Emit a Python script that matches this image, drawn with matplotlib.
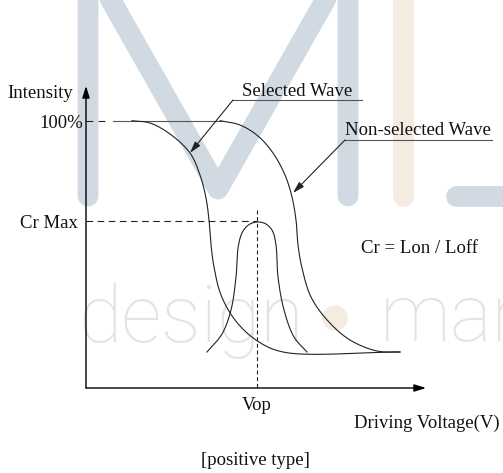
import numpy as np
import matplotlib
matplotlib.use('Agg')
from matplotlib import pyplot as plt
from matplotlib.patches import Circle

# picture space: x to the right, y downwards (pixels of the 503x473 frame)
W, H = 503, 473
origin = (86, 388)
y_top_arrow = 86
x_right_arrow = 426

# flat 100% line shared by both waves
top_x = [113, 222]
level_100 = 120.7
level_crmax = 220.7
x_vop = 257

# curves (x, y)
sel_x = [132, 150, 170, 190, 200, 206, 209, 211, 214, 221, 235, 256, 283, 400]
sel_y = [120.7, 123, 134, 153, 175, 198, 220, 245, 267, 295, 320, 340, 352, 352]

nonsel_x = [220, 240, 258, 273, 285, 292, 296, 298, 302, 311, 328, 350, 377, 400]
nonsel_y = [120.7, 125, 136, 153, 175, 197, 220, 245, 268, 297, 321, 340, 351, 352]

cr_x = [207, 222, 231, 236, 238.5, 243, 250, 258.5, 266, 272.5, 276, 278, 284, 294, 307]
cr_y = [352, 334, 310, 277, 245, 231, 224, 222, 224, 231, 245, 277, 310, 337, 352]

labels = ['Intensity', '100%', 'Cr Max', 'Selected Wave', 'Non-selected Wave',
          'Cr = Lon / Loff', 'Vop', 'Driving Voltage(V)', '[positive type]']
label_x = [73, 83, 78, 297, 345, 420, 257, 500, 255]
label_y = [98, 128, 228, 96, 135, 253, 410, 428, 465]
label_ha = ['right', 'right', 'right', 'center', 'left', 'center', 'center', 'right', 'center']

def smooth(xs, ys, n=20):
    # centripetal catmull-rom through the read points
    p = np.column_stack([xs, ys]).astype(float)
    p = np.vstack([2*p[0] - p[1], p, 2*p[-1] - p[-2]])
    out = []
    for i in range(1, len(p) - 2):
        p0, p1, p2, p3 = p[i-1], p[i], p[i+1], p[i+2]
        t0 = 0.0
        t1 = t0 + np.linalg.norm(p1 - p0) ** 0.5
        t2 = t1 + np.linalg.norm(p2 - p1) ** 0.5
        t3 = t2 + np.linalg.norm(p3 - p2) ** 0.5
        t = np.linspace(t1, t2, n, endpoint=False)[:, None]
        a1 = (t1 - t)/(t1 - t0)*p0 + (t - t0)/(t1 - t0)*p1
        a2 = (t2 - t)/(t2 - t1)*p1 + (t - t1)/(t2 - t1)*p2
        a3 = (t3 - t)/(t3 - t2)*p2 + (t - t2)/(t3 - t2)*p3
        b1 = (t2 - t)/(t2 - t0)*a1 + (t - t0)/(t2 - t0)*a2
        b2 = (t3 - t)/(t3 - t1)*a2 + (t - t1)/(t3 - t1)*a3
        c = (t2 - t)/(t2 - t1)*b1 + (t - t1)/(t2 - t1)*b2
        out.append(c)
    out.append(p[-2][None, :])
    out = np.vstack(out)
    return out[:, 0], out[:, 1]

fig = plt.figure(figsize=(W/100, H/100), dpi=100)
ax = fig.add_axes([0, 0, 1, 1])
ax.set_xlim(0, W)
ax.set_ylim(H, 0)
ax.axis('off')

# watermark behind everything
wm_blue = '#d1dae2'
wm_orange = '#f4ece1'
ax.plot([88, 88, 218, 348, 348], [196, -40, 189, -40, 196], color=wm_blue, lw=15,
        solid_capstyle='round', solid_joinstyle='round', zorder=0)
ax.plot([403, 403], [-40, 196], color=wm_orange, lw=15, solid_capstyle='round', zorder=0)
ax.plot([456, 540], [196, 196], color=wm_blue, lw=15, solid_capstyle='round', zorder=0)
ax.text(78, 342, 'design', fontsize=57, family='Roboto', weight='light', color='#e3e3e3',
        ha='left', va='baseline', zorder=0, clip_on=True)
ax.text(380, 341, 'mar', fontsize=57, family='Roboto', weight='light', color='#e3e3e3',
        ha='left', va='baseline', zorder=0, clip_on=True)
ax.add_patch(Circle((335, 318), 12, color=wm_orange, zorder=0))

lc = '#222222'
lw = 0.8

# axes with arrows
ax.annotate('', xy=(origin[0], y_top_arrow), xytext=origin,
            arrowprops=dict(arrowstyle='-|>,head_length=0.7,head_width=0.22', lw=1.0,
                            color='k', shrinkA=0, shrinkB=0))
ax.annotate('', xy=(x_right_arrow, origin[1]), xytext=origin,
            arrowprops=dict(arrowstyle='-|>,head_length=0.7,head_width=0.22', lw=1.0,
                            color='k', shrinkA=0, shrinkB=0))

# curves
ax.plot(top_x, [level_100, level_100], color='#555555', lw=lw, zorder=3)
for xs, ys in [(sel_x, sel_y), (nonsel_x, nonsel_y), (cr_x, cr_y)]:
    sx, sy = smooth(xs, ys)
    ax.plot(sx, sy, color=lc, lw=lw, zorder=3)

# dashed guides
ax.plot([origin[0], 110], [level_100, level_100], color=lc, lw=lw, ls=(0, (6, 5)))
ax.plot([origin[0], x_vop], [level_crmax, level_crmax], color=lc, lw=lw, ls=(0, (6, 4)))
ax.plot([x_vop, x_vop], [210, origin[1]], color=lc, lw=lw, ls=(0, (3.5, 2.5)))

# leaders
ax.plot([233, 362], [100, 100], color='#555555', lw=lw)
ax.annotate('', xy=(190, 153), xytext=(233, 100),
            arrowprops=dict(arrowstyle='-|>,head_length=0.7,head_width=0.2', lw=lw,
                            color=lc, shrinkA=0, shrinkB=0))
ax.plot([345, 492], [140, 140], color='#555555', lw=lw)
ax.annotate('', xy=(293, 193), xytext=(345, 140),
            arrowprops=dict(arrowstyle='-|>,head_length=0.7,head_width=0.2', lw=lw,
                            color=lc, shrinkA=0, shrinkB=0))

for s, x, y, ha in zip(labels, label_x, label_y, label_ha):
    ax.text(x, y, s, fontsize=13.5, family='Liberation Serif', color='#111111',
            ha=ha, va='baseline', zorder=5)

fig.savefig('out.png', dpi=100)
